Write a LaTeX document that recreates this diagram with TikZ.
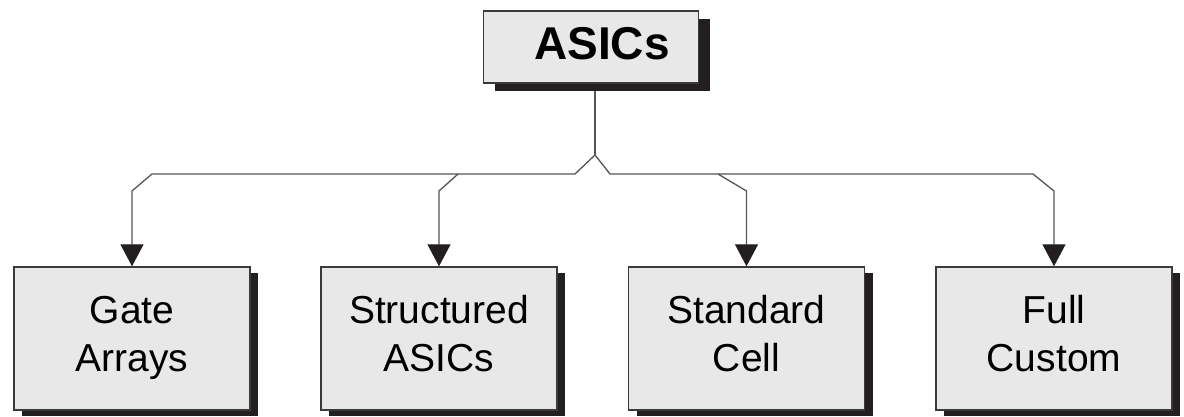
\documentclass[tikz,border=0pt]{standalone}
\usepackage{fontspec}
\setmainfont{Liberation Sans}
\usetikzlibrary{arrows.meta,shadows,backgrounds}
\definecolor{boxfill}{HTML}{E8E8E8}
\definecolor{boxline}{HTML}{3A3A3A}
\definecolor{shadowc}{HTML}{231F20}
\definecolor{linec}{HTML}{555555}
\begin{document}
\begin{tikzpicture}[x=1pt,y=-1pt,
  box/.style={draw=boxline, line width=1.4pt, fill=boxfill, inner sep=0pt, align=center},
  topbox/.style={box, minimum width=215pt, minimum height=72pt,
    font=\fontsize{46}{50}\selectfont\bfseries, text height=33pt, text depth=9pt,
    general shadow={fill=shadowc, shadow xshift=11pt, shadow yshift=-8pt}},
  leaf/.style={box, minimum width=236pt, minimum height=143pt,
    font=\fontsize{39}{48}\selectfont, text height=76pt, text depth=11pt,
    general shadow={fill=shadowc, shadow xshift=8pt, shadow yshift=-6pt}},
  conn/.style={draw=linec, line width=1.3pt},
  arr/.style={conn, -{Triangle[width=23pt,length=22pt,color=shadowc]}}]
\useasboundingbox (0,0) rectangle (1184,416);
\node[topbox] (asic) at (591,47) {\hspace*{22pt}ASICs};
\node[leaf] (ga) at (132,338.5) {Gate\\Arrays};
\node[leaf] (sa) at (439,338.5) {Structured\\ASICs};
\node[leaf] (sc) at (746.5,338.5) {Standard\\Cell};
\node[leaf] (fc) at (1054,338.5) {Full\\Custom};
\coordinate (j) at (595,155);
\coordinate (hy) at (0,191);
\coordinate (bl) at (575,174);
\coordinate (br) at (610,174);
\coordinate (b2) at (458,174);
\coordinate (b3) at (718,174);
\coordinate (b4) at (1033,174);
\begin{scope}[on background layer]
\draw[conn] (asic.south -| j) -- (j);
\draw[arr] (j) -- (bl) -- (152,174) -- (ga.north |- hy) -- (ga.north);
\draw[arr] (b2) -- (sa.north |- hy) -- (sa.north);
\draw[arr] (j) -- (br) -- (b3) -- (sc.north |- hy) -- (sc.north);
\draw[arr] (b3) -- (b4) -- (fc.north |- hy) -- (fc.north);
\end{scope}
\end{tikzpicture}
\end{document}
